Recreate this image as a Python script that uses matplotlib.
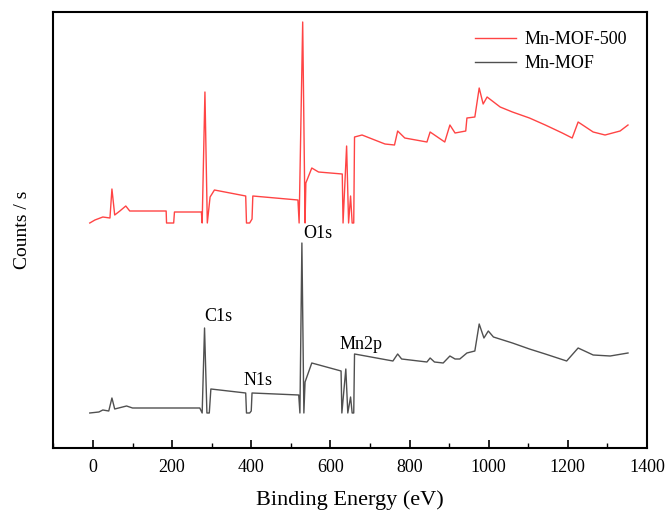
import matplotlib
matplotlib.use("Agg")
import matplotlib.pyplot as plt
from matplotlib.ticker import MultipleLocator

# Binding energy (eV) and intensity (arbitrary units, offset as plotted)
mof500_x = [-8, 5, 25, 43, 48, 55, 68, 83, 93, 185, 186, 204, 206, 274, 276, 283, 289, 296, 307, 386,
            388, 396, 402, 404, 518, 521, 530, 536, 538, 553, 570, 630, 632, 641, 646, 651, 655,
            659, 661, 680, 725, 738, 762, 770, 788, 844, 852, 889, 902, 915, 942, 945, 965, 976,
            986, 996, 1029, 1060, 1103, 1143, 1186, 1211, 1226, 1264, 1294, 1332, 1352]
mof500_y = [232, 235, 238, 237, 266, 240, 244, 249, 244, 244, 232, 232, 243, 243, 232, 363, 232, 258,
            265, 259, 232, 232, 236, 259, 255, 232, 433, 232, 272, 287, 283, 281, 232, 309, 232,
            259, 232, 232, 318, 320, 313, 311, 310, 324, 317, 313, 323, 313, 330, 322, 324, 337,
            338, 367, 351, 358, 348, 343, 337, 330, 322, 317, 333, 323, 320, 324, 330]

mof_x = [-8, 15, 25, 40, 48, 55, 85, 100, 270, 276, 282, 288, 294, 298, 320, 386, 388, 396, 400, 402,
         520, 523, 528, 533, 536, 553, 627, 629, 639, 644, 651, 655, 659, 661, 675, 758, 770, 780,
         844, 852, 863, 885, 902, 915, 927, 945, 965, 976, 988, 999, 1012, 1060, 1103, 1143, 1197,
         1226, 1264, 1307, 1352]
mof_y = [42, 43, 45, 44, 57, 46, 49, 47, 47, 42, 127, 42, 42, 66, 65, 62, 42, 42, 44, 62,
         60, 42, 212, 42, 73, 92, 84, 42, 86, 42, 58, 42, 42, 101, 100, 94, 101, 96,
         93, 97, 93, 92, 99, 96, 96, 102, 104, 131, 117, 124, 118, 112, 106, 101, 94, 107,
         100, 99, 102]

peak_labels = ["C1s", "N1s", "O1s", "Mn2p"]
peak_label_x = [318, 417, 569, 677]
peak_label_y = [134, 70, 217, 106]

x_ticks = [0, 200, 400, 600, 800, 1000, 1200, 1400]

plt.rcParams['font.family'] = ['Liberation Serif', 'DejaVu Serif']
plt.rcParams['mathtext.fontset'] = 'stix'

fig = plt.figure(figsize=(6.67, 5.11), dpi=100)
ax = fig.add_axes([0.080, 0.1233, 0.890, 0.8532])

ax.plot(mof500_x, mof500_y, color='#ff4444', lw=1.0, label='Mn-MOF-500')
ax.plot(mof_x, mof_y, color='#505050', lw=1.0, label='Mn-MOF')

for t, x, y in zip(peak_labels, peak_label_x, peak_label_y):
    ax.text(x, y, t, ha='center', va='baseline', fontsize=13)

ax.set_xlim(-100, 1400)
ax.set_ylim(7, 443)
ax.set_xticks(x_ticks)
ax.xaxis.set_minor_locator(MultipleLocator(100))
ax.set_yticks([])
ax.tick_params(axis='x', which='major', direction='in', length=6, width=1.2, labelsize=13, pad=8)
ax.tick_params(axis='x', which='minor', direction='in', length=3.5, width=1.0)
ax.tick_params(top=False, right=False)
for s in ax.spines.values():
    s.set_linewidth(1.5)

ax.set_xlabel('Binding Energy (eV)', fontsize=16, labelpad=10)
ax.set_ylabel('Counts / s', fontsize=14, labelpad=16)

leg = ax.legend(loc='upper right', frameon=False, fontsize=13, handlelength=2.25,
                handletextpad=0.45, labelspacing=0.37, bbox_to_anchor=(0.993, 0.993))

fig.savefig('out.png', dpi=100)
